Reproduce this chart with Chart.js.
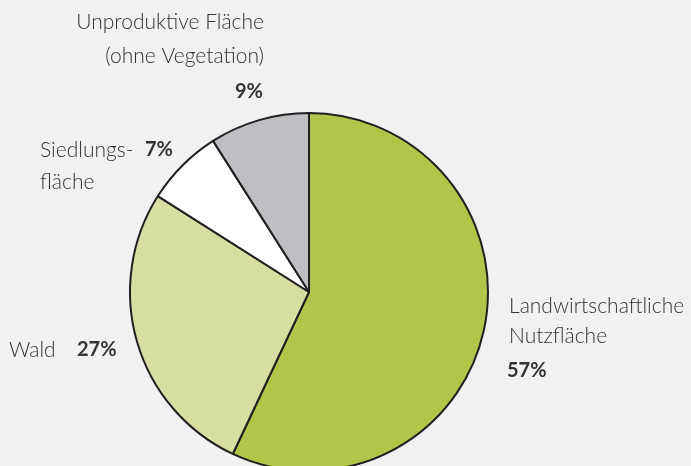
<!DOCTYPE html>
<html><head><meta charset="utf-8">
<script src="https://cdn.jsdelivr.net/npm/chart.js@4/dist/chart.umd.min.js"></script>
<style>
html,body{margin:0;padding:0;width:691px;height:466px;overflow:hidden;background:#f1f1f1;}
#wrap{width:691px;height:500px;position:relative;}
</style></head><body>
<div id="wrap"><canvas id="c"></canvas></div>
<script>
const categories = ["Landwirtschaftliche Nutzfläche", "Wald", "Siedlungsfläche", "Unproduktive Fläche (ohne Vegetation)"];
const values = [57, 27, 7, 9];
const colors = ["#b0c64a", "#d6dea1", "#ffffff", "#bebfc2"];
const percentLabels = ["57%", "27%", "7%", "9%"];

const FONT = "Lato, 'Open Sans', sans-serif";
const labelPlugin = {
  id: 'labels',
  afterDraw(chart) {
    const ctx = chart.ctx;
    ctx.save();
    ctx.fillStyle = '#333333';
    ctx.textBaseline = 'middle';
    const reg = "300 21px " + FONT;
    const bold = "700 20px " + FONT;
    function t(s, x, y, f, a) { ctx.font = f; ctx.textAlign = a; ctx.fillText(s, x, y); }
    // Unproduktive
    t("Unproduktive Fläche", 264, 22, reg, 'right');
    t("(ohne Vegetation)", 264, 56, reg, 'right');
    t(percentLabels[3], 263, 92, bold, 'right');
    // Siedlung
    t("Siedlungs-", 40, 150, reg, 'left');
    t(percentLabels[2], 145, 150, bold, 'left');
    t("fläche", 40, 182, reg, 'left');
    // Wald
    t("Wald", 9, 350, reg, 'left');
    t(percentLabels[1], 77, 350, bold, 'left');
    // Landwirtschaft
    t("Landwirtschaftliche", 509, 306, reg, 'left');
    t("Nutzfläche", 509, 336, reg, 'left');
    t(percentLabels[0], 507, 371, bold, 'left');
    ctx.restore();
  }
};

new Chart(document.getElementById('c'), {
  type: 'pie',
  data: {
    labels: categories,
    datasets: [{
      data: values,
      backgroundColor: colors,
      borderColor: '#231f20',
      borderWidth: 2,
      radius: 179
    }]
  },
  options: {
    responsive: true,
    maintainAspectRatio: false,
    animation: false,
    layout: { padding: { left: 0, right: 73, top: 84, bottom: 0 } },
    plugins: { legend: { display: false }, tooltip: { enabled: false } }
  },
  plugins: [labelPlugin]
});
</script>
</body></html>
